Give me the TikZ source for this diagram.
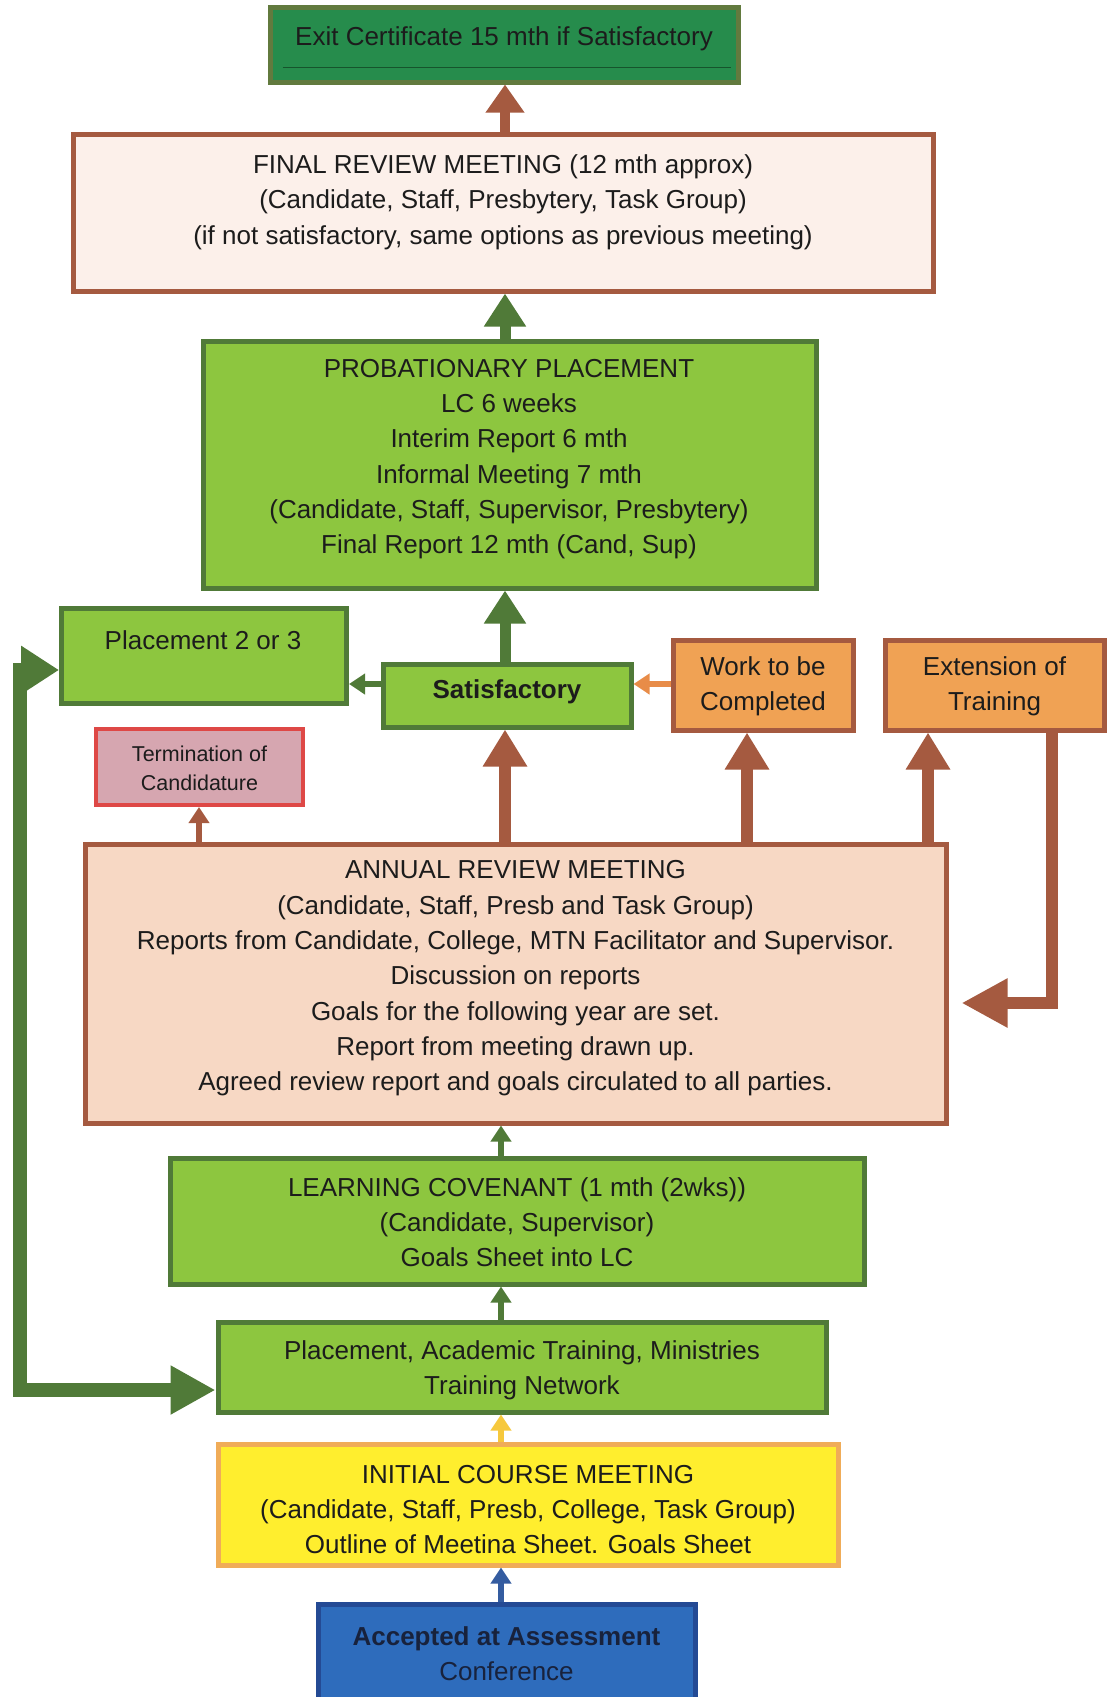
\documentclass[tikz,border=0pt]{standalone}
\usepackage{fontspec}
\setmainfont{Liberation Sans}
\usetikzlibrary{arrows.meta}

% palette
\definecolor{ink}{RGB}{28,28,28}
\definecolor{leaf}{RGB}{141,198,63}
\definecolor{leafedge}{RGB}{80,122,56}
\definecolor{exitfill}{RGB}{38,140,76}
\definecolor{exitedge}{RGB}{98,122,62}
\definecolor{exitline}{RGB}{22,84,44}
\definecolor{rust}{RGB}{165,90,64}
\definecolor{blush}{RGB}{252,240,234}
\definecolor{peach}{RGB}{247,216,196}
\definecolor{orangefill}{RGB}{240,162,84}
\definecolor{orangearrow}{RGB}{232,140,72}
\definecolor{mauve}{RGB}{214,166,176}
\definecolor{redline}{RGB}{222,72,70}
\definecolor{lemon}{RGB}{255,238,46}
\definecolor{lemonedge}{RGB}{240,172,88}
\definecolor{lemonarrow}{RGB}{246,200,60}
\definecolor{bluefill}{RGB}{46,108,188}
\definecolor{blueedge}{RGB}{36,74,148}
\definecolor{bluearrow}{RGB}{52,92,160}
\definecolor{navyink}{RGB}{24,34,60}

\tikzset{
  box/.style={draw, line width=5pt, inner sep=0pt},
  greenbox/.style={box, fill=leaf, draw=leafedge},
  brownbox/.style={box, draw=rust},
  orangebox/.style={box, fill=orangefill, draw=rust},
  txt/.style={align=center, inner sep=0pt, text=ink,
              font=\fontsize{26}{35.3}\selectfont},
  smalltxt/.style={align=center, inner sep=0pt, text=ink,
              font=\fontsize{21.5}{29}\selectfont},
  bigup/.style={draw=rust, line width=12pt,
              -{Triangle[width=42pt,length=37pt]}},
  greenup/.style={draw=leafedge, line width=11pt,
              -{Triangle[width=40pt,length=33pt]}},
  exitup/.style={draw=rust, line width=10pt,
              -{Triangle[width=37pt,length=28pt]}},
  thin/.style={line width=6pt, -{Triangle[width=20pt,length=16pt]}},
  loopgreen/.style={draw=leafedge, line width=14pt, line join=miter,
              {Triangle[width=46pt,length=38pt]}-{Triangle[width=46pt,length=45pt]}},
  loopbrown/.style={draw=rust, line width=12pt, line join=miter,
              -{Triangle[width=46pt,length=46pt]}},
}

\begin{document}
\begin{tikzpicture}[x=1pt,y=-1pt]
\useasboundingbox (0,0) rectangle (1108,1697);
\fill[white] (0,0) rectangle (1108,1697);

% column and row guides for the connectors
\coordinate (c1) at (505,0);
\coordinate (c2) at (501,0);
\coordinate (cterm) at (199,0);
\coordinate (cwork) at (747,0);
\coordinate (cext) at (928,0);
\coordinate (cloop) at (1052,0);
\coordinate (lx) at (19.5,0);
\coordinate (rsat) at (0,684);
\coordinate (rloop) at (0,1003);
\coordinate (rtop) at (0,670);
\coordinate (rlow) at (0,1390);

% boxes
\node[box, fill=exitfill, draw=exitedge, minimum width=468, minimum height=75]
  (exit) at (504,44.5) {};
\node[brownbox, fill=blush, minimum width=860, minimum height=157]
  (final) at (503,212.5) {};
\node[greenbox, minimum width=613, minimum height=247]
  (prob) at (509.5,464.5) {};
\node[greenbox, minimum width=285, minimum height=95]
  (place2) at (204,656) {};
\node[greenbox, minimum width=248, minimum height=63]
  (satis) at (507,695.5) {};
\node[orangebox, minimum width=180, minimum height=90]
  (work) at (763,685) {};
\node[orangebox, minimum width=219, minimum height=90]
  (ext) at (994.5,685) {};
\node[box, line width=4pt, fill=mauve, draw=redline, minimum width=207, minimum height=76]
  (term) at (199.5,767) {};
\node[brownbox, fill=peach, minimum width=861, minimum height=279]
  (annual) at (515.5,983.5) {};
\node[greenbox, minimum width=694, minimum height=126]
  (learn) at (517,1221) {};
\node[greenbox, minimum width=608, minimum height=90]
  (place) at (522,1367) {};
\node[box, fill=lemon, draw=lemonedge, minimum width=620, minimum height=121]
  (init) at (528,1504.5) {};
\node[box, fill=bluefill, draw=blueedge, minimum width=377, minimum height=100]
  (acc) at (506.5,1654) {};

% stray rule across the certificate box
\draw[exitline, line width=1.5pt]
  ([shift={(15,23)}]exit.west) -- ([shift={(-10,23)}]exit.east);

% texts
\node[txt] (exitt) at (504,38.5)
  {Exit Certificate 15 mth if Satisfactory};
\node[txt] (finalt) at (503,202)
  {FINAL REVIEW MEETING (12 mth approx)\\
   (Candidate, Staff, Presbytery, Task Group)\\
   (if not satisfactory, same options as previous meeting)};
\node[txt] (probt) at (509,459)
  {PROBATIONARY PLACEMENT\\ LC 6 weeks\\ Interim Report 6 mth\\
   Informal Meeting 7 mth\\ (Candidate, Staff, Supervisor, Presbytery)\\
   Final Report 12 mth (Cand, Sup)};
\node[txt] (place2t) at (203,640) {Placement 2 or 3};
\node[txt, font=\fontsize{26}{35.3}\selectfont\bfseries] (satist) at (507,692)
  {Satisfactory};
\node[txt] (workt) at (763,686.5) {Work to be\\ Completed};
\node[txt] (extt) at (994.5,686.5) {Extension of\\ Training};
\node[smalltxt] (termt) at (199.5,768) {Termination of\\ Candidature};
\node[txt] (annualt) at (515.5,978.5)
  {ANNUAL REVIEW MEETING\\
   (Candidate, Staff, Presb and Task Group)\\
   Reports from Candidate, College, MTN Facilitator and Supervisor.\\
   Discussion on reports\\
   Goals for the following year are set.\\
   Report from meeting drawn up.\\
   Agreed review report and goals circulated to all parties.};
\node[txt] (learnt) at (517,1222)
  {LEARNING COVENANT (1 mth (2wks))\\ (Candidate, Supervisor)\\
   Goals Sheet into LC};
\node[txt] (placet) at (522,1370.5)
  {Placement, Academic Training, Ministries\\ Training Network};
\node[txt] (initt) at (528,1509.5)
  {INITIAL COURSE MEETING\\
   (Candidate, Staff, Presb, College, Task Group)\\
   Outline of Meetina Sheet. Goals Sheet};
\node[txt, text=navyink] (acct) at (506.5,1654)
  {\textbf{Accepted at Assessment}\\ Conference};

% connectors
\draw[exitup] (final.north -| c1) -- (exit.south -| c1);
\draw[greenup] (prob.north -| c1) -- (final.south -| c1);
\draw[greenup] (satis.north -| c1) -- (prob.south -| c1);
\draw[bigup] (annual.north -| c1) -- (satis.south -| c1);
\draw[bigup] (annual.north -| cwork) -- (work.south -| cwork);
\draw[bigup] (annual.north -| cext) -- (ext.south -| cext);
\draw[thin, draw=rust] (annual.north -| cterm) -- (term.south -| cterm);
\draw[thin, draw=leafedge] (satis.west |- rsat) -- (place2.east |- rsat);
\draw[thin, draw=orangearrow] (work.west |- rsat) -- (satis.east |- rsat);
\draw[thin, draw=leafedge] (learn.north -| c2) -- (annual.south -| c2);
\draw[thin, draw=leafedge] (place.north -| c2) -- (learn.south -| c2);
\draw[thin, draw=lemonarrow] (init.north -| c2) -- (place.south -| c2);
\draw[thin, draw=bluearrow] (acc.north -| c2) -- (init.south -| c2);
\draw[loopbrown, shorten >=13pt] (ext.south -| cloop) |- (annual.east |- rloop);
\draw[loopgreen] (place2.west |- rtop) -| (lx |- rlow) -- (place.west |- rlow);
\end{tikzpicture}
\end{document}
